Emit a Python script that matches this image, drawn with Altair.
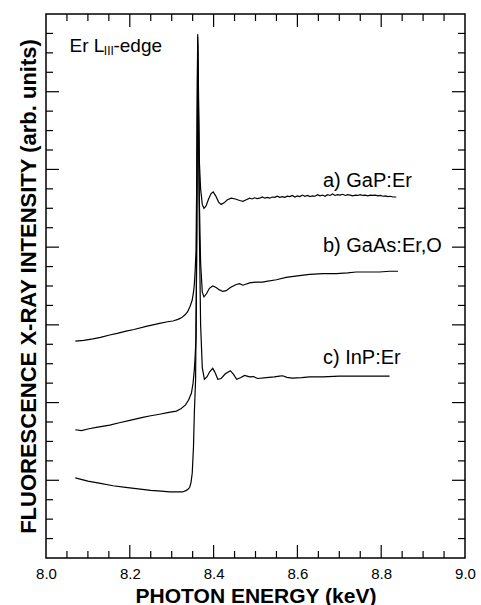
import altair as alt
import pandas as pd

# ---------------- data ----------------
A_X = [8.070, 8.090, 8.112, 8.130, 8.152, 8.170, 8.191, 8.210, 8.239, 8.255, 8.271, 8.290,
       8.303, 8.315, 8.323, 8.332, 8.338, 8.344, 8.349, 8.352, 8.354, 8.356, 8.358, 8.360,
       8.362, 8.364, 8.366, 8.369, 8.373, 8.377, 8.382, 8.388, 8.394, 8.399, 8.405, 8.412,
       8.418, 8.425, 8.433, 8.442, 8.452, 8.462, 8.470, 8.478, 8.486,
       8.492, 8.498, 8.504, 8.510, 8.516, 8.522, 8.528, 8.534, 8.540, 8.546, 8.552, 8.558,
       8.564, 8.570, 8.576, 8.582, 8.588, 8.594, 8.600, 8.606, 8.612, 8.618, 8.624, 8.630,
       8.636, 8.642, 8.648, 8.654, 8.660, 8.666, 8.672, 8.678, 8.684, 8.690, 8.696, 8.702,
       8.708, 8.714, 8.720, 8.726, 8.732, 8.738, 8.744, 8.750, 8.756, 8.762, 8.768, 8.774,
       8.780, 8.786, 8.792, 8.798, 8.804, 8.810, 8.816, 8.822, 8.828, 8.836]
A_Y = [2.79, 2.80, 2.82, 2.84, 2.87, 2.89, 2.92, 2.94, 2.98, 3.00, 3.02, 3.04,
       3.05, 3.07, 3.09, 3.13, 3.17, 3.24, 3.32, 3.42, 3.52, 3.70, 3.95, 5.00,
       6.74, 6.00, 5.10, 4.75, 4.55, 4.50, 4.53, 4.62, 4.69, 4.71, 4.66, 4.58,
       4.55, 4.57, 4.61, 4.63, 4.62, 4.60, 4.59, 4.61, 4.63,
       4.62, 4.635, 4.625, 4.63, 4.645, 4.63, 4.64, 4.63, 4.645, 4.64, 4.655, 4.64,
       4.65, 4.64, 4.655, 4.65, 4.665, 4.645, 4.66, 4.65, 4.67, 4.655, 4.665, 4.65,
       4.66, 4.655, 4.675, 4.66, 4.67, 4.655, 4.675, 4.665, 4.685, 4.665, 4.675, 4.67,
       4.68, 4.665, 4.675, 4.67, 4.66, 4.67, 4.665, 4.675, 4.665, 4.67, 4.66, 4.67,
       4.665, 4.67, 4.66, 4.665, 4.655, 4.66, 4.65, 4.655, 4.645, 4.645]

B_X = [8.070, 8.085, 8.100, 8.120, 8.152, 8.175, 8.200, 8.231, 8.250, 8.271, 8.290, 8.311,
       8.322, 8.333, 8.340, 8.347, 8.351, 8.354, 8.356, 8.358, 8.360, 8.362, 8.364, 8.366,
       8.369, 8.373, 8.377, 8.383, 8.390, 8.398, 8.406, 8.414, 8.422, 8.430, 8.440, 8.454,
       8.462, 8.470, 8.486, 8.500, 8.517, 8.526, 8.550, 8.573, 8.600, 8.629, 8.661, 8.693,
       8.720, 8.740, 8.770, 8.796, 8.820, 8.840]
B_Y = [1.65, 1.64, 1.66, 1.68, 1.71, 1.74, 1.77, 1.81, 1.83, 1.85, 1.87, 1.89,
       1.92, 1.97, 2.03, 2.12, 2.25, 2.42, 2.60, 2.84, 4.20, 6.70, 5.80, 4.60,
       3.80, 3.42, 3.36, 3.40, 3.47, 3.50, 3.48, 3.45, 3.43, 3.44, 3.48, 3.52,
       3.53, 3.51, 3.54, 3.55, 3.55, 3.56, 3.58, 3.61, 3.63, 3.65, 3.66, 3.66,
       3.67, 3.68, 3.68, 3.68, 3.69, 3.69]

C_X = [8.070, 8.100, 8.130, 8.160, 8.190, 8.220, 8.250, 8.275, 8.295, 8.315, 8.326, 8.335,
       8.340, 8.343, 8.346, 8.349, 8.352, 8.354, 8.357, 8.359, 8.362, 8.364, 8.366, 8.369,
       8.373, 8.378, 8.384, 8.391, 8.398, 8.404, 8.410, 8.418, 8.428, 8.440, 8.448, 8.455,
       8.464, 8.474, 8.486, 8.495, 8.505, 8.526, 8.545, 8.557, 8.565, 8.575, 8.588, 8.610,
       8.629, 8.660, 8.700, 8.740, 8.780, 8.820]
C_Y = [1.03, 0.99, 0.96, 0.93, 0.91, 0.89, 0.87, 0.86, 0.85, 0.85, 0.85, 0.87,
       0.89, 0.91, 0.97, 1.09, 1.43, 1.86, 2.29, 3.50, 6.62, 5.60, 4.20, 3.00,
       2.45, 2.30, 2.33, 2.40, 2.44, 2.38, 2.30, 2.31, 2.37, 2.41, 2.36, 2.30,
       2.32, 2.35, 2.33, 2.335, 2.31, 2.32, 2.33, 2.34, 2.345, 2.325, 2.315, 2.32,
       2.33, 2.33, 2.34, 2.34, 2.34, 2.34]

SERIES = ["a) GaP:Er", "b) GaAs:Er,O", "c) InP:Er"]
LABEL_X = [8.661, 8.661, 8.661]
LABEL_Y = [4.775, 3.938, 2.502]

X_LABELS = [8.0, 8.2, 8.4, 8.6, 8.8, 9.0]
X_MAJOR = [8.2, 8.4, 8.6, 8.8]
X_MINOR = [8.05, 8.10, 8.15, 8.25, 8.30, 8.35, 8.45, 8.50, 8.55, 8.65, 8.70, 8.75, 8.85, 8.90, 8.95]
Y_MAJOR = [1, 2, 3, 4, 5, 6]
Y_MINOR = [0.25, 0.5, 0.75, 1.25, 1.5, 1.75, 2.25, 2.5, 2.75, 3.25, 3.5, 3.75,
           4.25, 4.5, 4.75, 5.25, 5.5, 5.75, 6.25, 6.5, 6.75]

EDGE_TEXT = ["Er L", "III", "-edge"]
EDGE_X = [8.056, 8.138, 8.161]
EDGE_Y = [6.51, 6.475, 6.51]
EDGE_SIZE = [19, 12, 19]

# ---------------- build tables ----------------
rows = []
for name, xv, yv in zip(SERIES, [A_X, B_X, C_X], [A_Y, B_Y, C_Y]):
    for i, (x, y) in enumerate(zip(xv, yv)):
        rows.append({"sample": name, "energy": x, "intensity": y, "idx": i})
curves = pd.DataFrame(rows)

labels = pd.DataFrame({"text": SERIES, "x": LABEL_X, "y": LABEL_Y})
edge = pd.DataFrame({"text": EDGE_TEXT, "x": EDGE_X, "y": EDGE_Y, "fs": EDGE_SIZE})

W, H = 419, 544
FONT = "Liberation Sans"
MAJ, MIN = 13, 7

xs = alt.Scale(domain=[8.0, 9.0], nice=False, zero=False)
ys = alt.Scale(domain=[0, 7], nice=False, zero=False)

X_AXIS = alt.Axis(values=X_LABELS, format=".1f", title="PHOTON ENERGY (keV)",
                  ticks=False, tickSize=0, domain=False, grid=False,
                  labelFont=FONT, labelFontSize=15, labelColor="black",
                  labelPadding=8, labelFlush=False,
                  titleFont=FONT, titleFontSize=21, titleFontWeight="bold",
                  titleColor="black", titlePadding=4)
Y_AXIS = alt.Axis(labels=False, ticks=False, tickSize=0, domain=False, grid=False,
                  title="FLUORESCENCE X-RAY INTENSITY (arb. units)",
                  titleFont=FONT, titleFontSize=22, titleFontWeight="bold",
                  titleColor="black", titlePadding=6)

lines = alt.Chart(curves).mark_line(color="black", strokeWidth=1.2).encode(
    x=alt.X("energy:Q", scale=xs, axis=X_AXIS),
    y=alt.Y("intensity:Q", scale=ys, axis=Y_AXIS),
    detail="sample:N",
    order="idx:Q",
)


def xticks(vals, length, top):
    d = pd.DataFrame({"v": vals})
    if top:
        yy, yy2 = alt.value(0), alt.value(length)
    else:
        yy, yy2 = alt.value(H), alt.value(H - length)
    return alt.Chart(d).mark_rule(color="black", strokeWidth=1.2).encode(
        x=alt.X("v:Q", scale=xs, axis=X_AXIS), y=yy, y2=yy2)


def yticks(vals, length, right):
    d = pd.DataFrame({"v": vals})
    if right:
        xx, xx2 = alt.value(W), alt.value(W - length)
    else:
        xx, xx2 = alt.value(0), alt.value(length)
    return alt.Chart(d).mark_rule(color="black", strokeWidth=1.2).encode(
        y=alt.Y("v:Q", scale=ys, axis=Y_AXIS), x=xx, x2=xx2)


tick_layers = [
    xticks(X_MAJOR, MAJ, False), xticks(X_MINOR, MIN, False),
    xticks(X_MAJOR, MAJ, True), xticks(X_MINOR, MIN, True),
    yticks(Y_MAJOR, MAJ, False), yticks(Y_MINOR, MIN, False),
    yticks(Y_MAJOR, MAJ, True), yticks(Y_MINOR, MIN, True),
]

label_layer = alt.Chart(labels).mark_text(
    align="left", baseline="alphabetic", font=FONT, fontSize=20, color="black"
).encode(
    x=alt.X("x:Q", scale=xs, axis=X_AXIS),
    y=alt.Y("y:Q", scale=ys, axis=Y_AXIS),
    text="text:N",
)

edge_layer = alt.Chart(edge).mark_text(
    align="left", baseline="alphabetic", font=FONT, color="black"
).encode(
    x=alt.X("x:Q", scale=xs, axis=X_AXIS),
    y=alt.Y("y:Q", scale=ys, axis=Y_AXIS),
    text="text:N",
    size=alt.Size("fs:Q", scale=None, legend=None),
)

chart = alt.layer(lines, *tick_layers, label_layer, edge_layer).properties(
    width=W, height=H,
    autosize=alt.AutoSizeParams(type="none"),
    padding={"left": 46, "top": 14, "right": 16, "bottom": 47},
    background="white",
).configure_view(stroke="black", strokeWidth=1.5)

chart.save("out.html", embed_options={"renderer": "svg", "actions": False})
